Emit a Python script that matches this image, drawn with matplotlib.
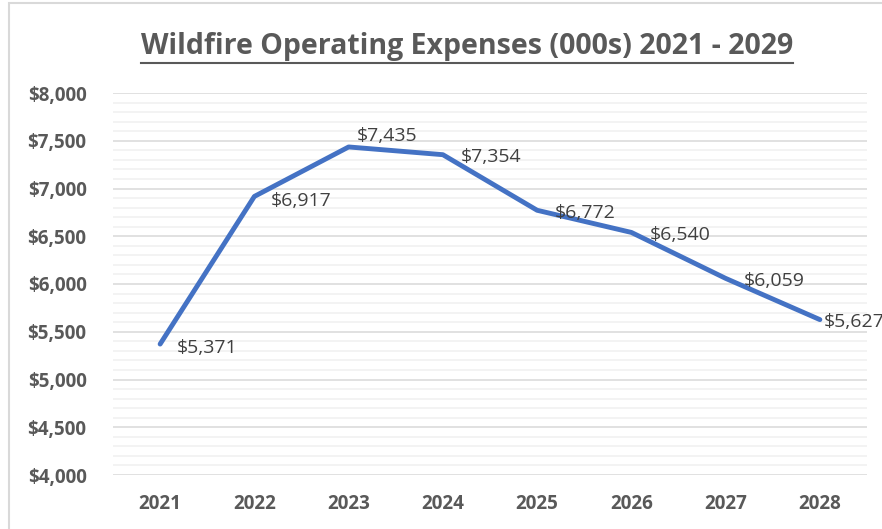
import matplotlib as mpl

mpl.use("Agg")

import matplotlib.pyplot as plt
from matplotlib.lines import Line2D
from matplotlib.patches import Rectangle
from matplotlib.ticker import FuncFormatter, MultipleLocator

years = ["2021", "2022", "2023", "2024", "2025", "2026", "2027", "2028"]
expenses = [5371, 6917, 7435, 7354, 6772, 6540, 6059, 5627]
title = "Wildfire Operating Expenses (000s) 2021 - 2029"

# label offsets in points (Excel "right" placement, one label nudged up)
label_offsets = [(12, -3), (12, -3), (6, 8), (13, -2), (13, -2), (13, -2), (13, -2), (3, -2)]

mpl.rcParams["font.family"] = ["Open Sans", "DejaVu Sans"]

fig = plt.figure(figsize=(8.82, 5.29), dpi=100)
W, H = 882, 529
ax = fig.add_axes([113 / W, 1 - 475 / H, (867 - 113) / W, (475 - 93) / H])

# outer chart frame (light gray)
fig.patches.append(Rectangle((9 / W, -0.1), 1.2, 1 - 3 / H + 0.1, transform=fig.transFigure,
                             fill=False, edgecolor="#D9D9D9", lw=1.5))

x = list(range(len(years)))
ax.plot(x, expenses, color="#4472C4", lw=3.5, solid_capstyle="round", solid_joinstyle="round", zorder=3)

for xi, v, (dx, dy) in zip(x, expenses, label_offsets):
    ax.annotate(f"${v:,}", (xi, v), xytext=(dx, dy), textcoords="offset points",
                ha="left", va="center", fontsize=14, color="#404040", zorder=4,
                annotation_clip=False)

ax.set_xlim(-0.5, len(years) - 0.5)
ax.set_ylim(4000, 8000)
ax.set_xticks(x, years)
ax.yaxis.set_major_locator(MultipleLocator(500))
ax.yaxis.set_minor_locator(MultipleLocator(100))
ax.yaxis.set_major_formatter(FuncFormatter(lambda v, p: f"${v:,.0f}"))

ax.grid(axis="y", which="major", color="#D9D9D9", lw=1.1, zorder=0)
ax.grid(axis="y", which="minor", color="#F0F0F0", lw=1.1, zorder=0)
ax.set_axisbelow(True)
for s in ax.spines.values():
    s.set_visible(False)
ax.tick_params(axis="both", which="both", length=0)
ax.tick_params(axis="y", pad=19)
ax.tick_params(axis="x", pad=14)
for lbl in ax.get_xticklabels() + ax.get_yticklabels():
    lbl.set_fontsize(13.5)
    lbl.set_fontweight("bold")
    lbl.set_color("#595959")

t = fig.text(467 / W, 1 - 54 / H, title, ha="center", va="baseline", fontsize=20.5,
             fontweight="bold", color="#595959")

# underline the title
fig.canvas.draw()
bb = t.get_window_extent().transformed(fig.transFigure.inverted())
fig.add_artist(Line2D([bb.x0, bb.x1], [1 - 63 / H, 1 - 63 / H], transform=fig.transFigure,
                      color="#595959", lw=1.5))

fig.savefig("out.png", dpi=100)
